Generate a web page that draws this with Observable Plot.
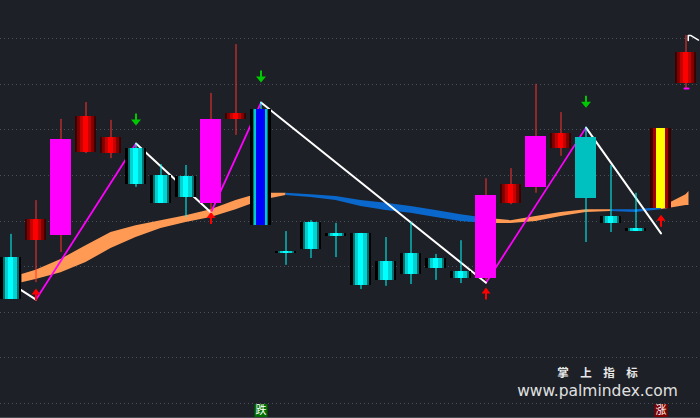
<!DOCTYPE html>
<html><head><meta charset="utf-8">
<script src="https://cdn.jsdelivr.net/npm/d3@7"></script>
<script src="https://cdn.jsdelivr.net/npm/@observablehq/plot@0.6"></script>
<style>html,body{margin:0;padding:0;background:#1d2027;overflow:hidden}</style>
</head><body><div id="chart"></div>
<script>
// ---- candle data (index, OHLC, candle style) ----
const session = [0,1,2,3,4,5,6,7,8,9,10,11,12,13,14,15,16,17,18,19,20,21,22,23,24,25,26,27];
const open  = [3.320,3.357,3.368,3.550,3.548,3.559,3.500,3.498,3.439,3.623,3.390,3.334,3.397,3.373,3.373,3.311,3.329,3.318,3.289,3.274,3.439,3.474,3.559,3.583,3.410,3.384,3.428,3.702];
const close = [3.228,3.404,3.579,3.629,3.583,3.480,3.439,3.452,3.623,3.636,3.645,3.330,3.338,3.366,3.259,3.270,3.283,3.296,3.274,3.456,3.480,3.586,3.592,3.450,3.395,3.377,3.603,3.770];
const high  = [3.371,3.445,3.623,3.660,3.621,3.570,3.524,3.522,3.680,3.787,3.660,3.377,3.401,3.395,3.373,3.364,3.397,3.327,3.357,3.493,3.515,3.700,3.638,3.605,3.522,3.461,3.603,3.807];
const low   = [3.228,3.265,3.331,3.548,3.537,3.474,3.439,3.408,3.419,3.588,3.390,3.303,3.318,3.320,3.250,3.257,3.261,3.270,3.263,3.270,3.436,3.461,3.542,3.353,3.375,3.377,3.428,3.691];
const kind  = ["fall","rise","surge","rise","rise","fall","fall","fall","surge","rise","break","fall","fall","fall","fall","fall","fall","fall","fall","surge","rise","surge","rise","turn","fall","fall","signal","rise"];

// ---- moving-average band ----
const bandAt    = [0.44,1,2,3,4,5,6,7,8,9,10,11,12,13,14,15,16,17,18,19,20,21,22,23,24,25,26,27,27.12];
const bandHigh  = [3.283,3.292,3.316,3.346,3.375,3.390,3.401,3.412,3.425,3.445,3.461,3.461,3.458,3.454,3.445,3.439,3.432,3.423,3.414,3.406,3.401,3.410,3.419,3.425,3.425,3.425,3.430,3.458,3.465];
const bandLow   = [3.265,3.272,3.287,3.309,3.340,3.364,3.384,3.397,3.408,3.425,3.445,3.456,3.452,3.445,3.432,3.423,3.417,3.408,3.399,3.395,3.395,3.399,3.410,3.419,3.421,3.419,3.425,3.434,3.434];
const bandTrend = ["up","up","up","up","up","up","up","up","up","up","up","up","down","down","down","down","down","down","down","down","up","up","up","up","up","down","down","up","up"];

// ---- zigzag turning points ----
const zigAt    = [0,1,5,8,10,19,23,26];
const zigValue = [3.263,3.228,3.570,3.419,3.660,3.265,3.605,3.373];
const tailWhiteAt = [27.09,27.09,27.2,27.5];
const tailWhiteValue = [3.796,3.807,3.807,3.797];
const tailPinkAt = [26.94,27.1];
const tailPinkValue = [3.691,3.691];

// ---- arrows ----
const buyAt = [1,8,19,26];
const buyValue = [3.239,3.407,3.241,3.401];
const sellAt = [5,10,23];
const sellValue = [3.623,3.717,3.662];

// ---- labels ----
const signalAt = [10,26];
const signalText = ["跌","涨"];
const gridLevels = [3.0,3.1,3.2,3.3,3.4,3.5,3.6,3.7,3.8];
const yLow = 2.9671, yHigh = 3.8838;

// ---- build tables ----
const rows = session.map((i,k)=>({i, open:open[k], high:high[k], low:low[k], close:close[k], kind:kind[k]}));

const bandRows = [];
let run = 0;
for (let k = 1; k < bandAt.length; k++) {
  if (k === 1 || bandTrend[k] !== bandTrend[k-1]) {
    run++;
    bandRows.push({x:bandAt[k-1], hi:bandHigh[k-1], lo:bandLow[k-1], run, trend:bandTrend[k]});
  }
  bandRows.push({x:bandAt[k], hi:bandHigh[k], lo:bandLow[k], run, trend:bandTrend[k]});
}

const zigRows = [];
for (let k = 1; k < zigAt.length; k++) {
  const dir = zigValue[k] > zigValue[k-1] ? "up" : "down";
  zigRows.push({x:zigAt[k-1], y:zigValue[k-1], seg:k, dir});
  zigRows.push({x:zigAt[k], y:zigValue[k], seg:k, dir});
}
const tailWhite = tailWhiteAt.map((x,k)=>({x, y:tailWhiteValue[k]}));
const tailPink = tailPinkAt.map((x,k)=>({x, y:tailPinkValue[k]}));
const buys = buyAt.map((i,k)=>({i, v:buyValue[k]}));
const sells = sellAt.map((i,k)=>({i, v:sellValue[k]}));
const signals = signalAt.map((i,k)=>({i, text:signalText[k]}));

// ---- styles ----
const layers = {
  fall:   [["#000000",0,0],["#006e6e",3,2],["#00d2d2",5,4],["#00ffff",8,8]],
  rise:   [["#3c0000",0,0],["#800000",2,2],["#c40000",5,5],["#ff0000",8,8]],
  surge:  [["#ff00ff",0,0]],
  turn:   [["#00c0c0",0,0]],
  break:  [["#000000",0,0],["#007a7a",3,3],["#00c8c8",4,4],["#0000ff",6,6]],
  signal: [["#3a0000",0,0],["#a00000",3,3],["#ffff00",6,6]]
};
const redWick = new Set(["rise","surge","signal"]);

const arrowUp = {draw(c){c.moveTo(0,-6);c.lineTo(4.5,0);c.lineTo(1,0);c.lineTo(1,6);c.lineTo(-1,6);c.lineTo(-1,0);c.lineTo(-4.5,0);c.closePath();}};
const arrowDown = {draw(c){c.moveTo(0,6);c.lineTo(5,0);c.lineTo(1,0);c.lineTo(1,-6);c.lineTo(-1,-6);c.lineTo(-1,0);c.lineTo(-5,0);c.closePath();}};

const bodyMarks = [];
for (const [k, ls] of Object.entries(layers)) {
  const data = rows.filter(d => d.kind === k);
  for (const [fill, l, r] of ls) {
    bodyMarks.push(Plot.rect(data, {x1: d => d.i - 0.42, x2: d => d.i + 0.42, y1: "open", y2: "close",
      fill, insetLeft: l, insetRight: r, shapeRendering: "crispEdges"}));
  }
}

const chart = Plot.plot({
  width: 700, height: 418,
  marginTop: 0, marginRight: 0, marginBottom: 0, marginLeft: 0,
  style: {background: "#1d2027", overflow: "hidden"},
  x: {domain: [-0.42, 27.58], axis: null},
  y: {domain: [yLow, yHigh], axis: null},
  marks: [
    Plot.ruleY(gridLevels, {stroke: "#4a4f5b", strokeDasharray: "1,3", shapeRendering: "crispEdges"}),
    Plot.ruleY([yLow], {stroke: "#464a53", dy: -1, shapeRendering: "crispEdges"}),
    Plot.areaY(bandRows.filter(d => d.trend === "up"), {x: "x", y1: "lo", y2: "hi", z: "run", fill: "#ff9a55"}),
    Plot.areaY(bandRows.filter(d => d.trend === "down"), {x: "x", y1: "lo", y2: "hi", z: "run", fill: "#0a68cc"}),
    Plot.line(zigRows.filter(d => d.dir === "up"), {x: "x", y: "y", z: "seg", stroke: "#ff00ff", strokeWidth: 1.8}),
    Plot.line(zigRows.filter(d => d.dir === "down"), {x: "x", y: "y", z: "seg", stroke: "#ffffff", strokeWidth: 2}),
    Plot.line(tailWhite, {x: "x", y: "y", stroke: "#ffffff", strokeWidth: 1.5}),
    Plot.line(tailPink, {x: "x", y: "y", stroke: "#ff00ff", strokeWidth: 2}),
    Plot.ruleX(rows.filter(d => redWick.has(d.kind)), {x: "i", y1: "low", y2: "high", stroke: "#ff3030", strokeWidth: 1}),
    Plot.ruleX(rows.filter(d => !redWick.has(d.kind)), {x: "i", y1: "low", y2: "high", stroke: "#00ffff", strokeWidth: 1}),
    ...bodyMarks,
    Plot.dot(buys, {x: "i", y: "v", symbol: arrowUp, r: 5, fill: "#ff0000", stroke: "none"}),
    Plot.dot(sells, {x: "i", y: "v", symbol: arrowDown, r: 5, fill: "#00c800", stroke: "none"}),
    Plot.dot(signals, {x: "i", frameAnchor: "bottom", dy: -8, symbol: "square", r: 7.3,
      fill: d => d.text === "跌" ? "#007000" : "#800000", stroke: "none"}),
    Plot.text(signals, {x: "i", frameAnchor: "bottom", dy: -8, text: "text", fill: "#ffffff",
      fontSize: 11, fontFamily: "Noto Sans CJK SC", lineAnchor: "middle"}),
    Plot.text(["掌　上　指　标"], {frameAnchor: "bottom-right", dx: -103, dy: -45, textAnchor: "middle",
      lineAnchor: "middle", fill: "#e8e8e8", fontSize: 11.5, fontWeight: "bold", fontFamily: "Noto Sans CJK SC"}),
    Plot.text(["www.palmindex.com"], {frameAnchor: "bottom-right", dx: -103, dy: -27, textAnchor: "middle",
      lineAnchor: "middle", fill: "#e0e0e0", fontSize: 15.5, fontFamily: "DejaVu Sans"})
  ]
});
document.getElementById("chart").appendChild(chart);
</script>
</body></html>
